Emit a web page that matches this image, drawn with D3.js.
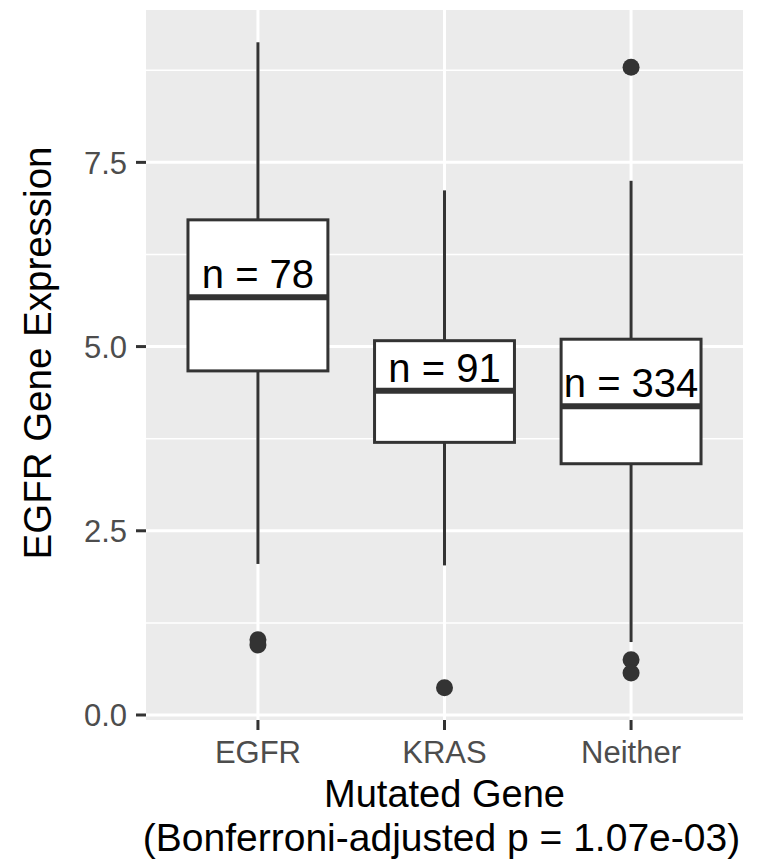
<!DOCTYPE html>
<html>
<head>
<meta charset="utf-8">
<script src="https://cdnjs.cloudflare.com/ajax/libs/d3/7.8.5/d3.min.js"></script>
<style>
  body { margin: 0; background: #fff; }
  text { font-family: "Liberation Sans", Arial, Helvetica, sans-serif; }
</style>
</head>
<body>
<div id="chart"></div>
<script>
// values
var categories = ["EGFR", "KRAS", "Neither"];
var q1 = [4.67, 3.70, 3.41];
var medians = [5.67, 4.40, 4.19];
var q3 = [6.72, 5.08, 5.10];
var whiskerLow = [2.05, 2.03, 0.99];
var whiskerHigh = [9.13, 7.12, 7.25];
var outliers = [[1.02, 0.95], [0.37], [8.79, 0.75, 0.57]];
var counts = [78, 91, 334];
var yTicks = [0, 2.5, 5, 7.5];
var yMinor = [1.25, 3.75, 6.25, 8.75];

var W = 762, H = 866;
var panel = { left: 146, right: 743, top: 10, bottom: 720 };

var svg = d3.select("#chart").append("svg")
    .attr("width", W).attr("height", H);

// ggplot style 5% expansion around the data
var allVals = whiskerLow.concat(whiskerHigh, d3.merge(outliers));
var lo = d3.min(allVals), hi = d3.max(allVals);
var pad = (hi - lo) * 0.05;

var y = d3.scaleLinear().domain([lo - pad, hi + pad]).range([panel.bottom, panel.top]);
var x = d3.scalePoint().domain(categories).range([panel.left, panel.right]).padding(0.6);
var boxW = x.step() * 0.75;

// panel background
svg.append("rect")
    .attr("x", panel.left).attr("y", panel.top)
    .attr("width", panel.right - panel.left).attr("height", panel.bottom - panel.top)
    .attr("fill", "#EBEBEB");

// grid
svg.selectAll(".minor").data(yMinor).enter().append("line")
    .attr("x1", panel.left).attr("x2", panel.right)
    .attr("y1", function (d) { return y(d); }).attr("y2", function (d) { return y(d); })
    .attr("stroke", "#fff").attr("stroke-width", 1.5);
svg.selectAll(".major").data(yTicks).enter().append("line")
    .attr("x1", panel.left).attr("x2", panel.right)
    .attr("y1", function (d) { return y(d); }).attr("y2", function (d) { return y(d); })
    .attr("stroke", "#fff").attr("stroke-width", 3);
svg.selectAll(".vmajor").data(categories).enter().append("line")
    .attr("x1", function (d) { return x(d); }).attr("x2", function (d) { return x(d); })
    .attr("y1", panel.top).attr("y2", panel.bottom)
    .attr("stroke", "#fff").attr("stroke-width", 3);

// boxes
var g = svg.selectAll(".box").data(categories).enter().append("g");

g.append("line")
    .attr("x1", function (d) { return x(d); }).attr("x2", function (d) { return x(d); })
    .attr("y1", function (d, i) { return y(whiskerHigh[i]); })
    .attr("y2", function (d, i) { return y(q3[i]); })
    .attr("stroke", "#333").attr("stroke-width", 3);
g.append("line")
    .attr("x1", function (d) { return x(d); }).attr("x2", function (d) { return x(d); })
    .attr("y1", function (d, i) { return y(q1[i]); })
    .attr("y2", function (d, i) { return y(whiskerLow[i]); })
    .attr("stroke", "#333").attr("stroke-width", 3);
g.append("rect")
    .attr("x", function (d) { return x(d) - boxW / 2; })
    .attr("width", boxW)
    .attr("y", function (d, i) { return y(q3[i]); })
    .attr("height", function (d, i) { return y(q1[i]) - y(q3[i]); })
    .attr("fill", "#fff").attr("stroke", "#333").attr("stroke-width", 3);
g.append("line")
    .attr("x1", function (d) { return x(d) - boxW / 2; })
    .attr("x2", function (d) { return x(d) + boxW / 2; })
    .attr("y1", function (d, i) { return y(medians[i]); })
    .attr("y2", function (d, i) { return y(medians[i]); })
    .attr("stroke", "#333").attr("stroke-width", 6);

// outliers
g.each(function (d, i) {
  d3.select(this).selectAll("circle").data(outliers[i]).enter().append("circle")
      .attr("cx", x(d))
      .attr("cy", function (v) { return y(v); })
      .attr("r", 8.5)
      .attr("fill", "#333");
});

// n labels
g.append("text")
    .attr("x", function (d) { return x(d); })
    .attr("y", function (d, i) { return y(medians[i]) - 9; })
    .attr("text-anchor", "middle")
    .attr("font-size", "40px")
    .attr("fill", "#000")
    .text(function (d, i) { return "n = " + counts[i]; });

// y axis
svg.selectAll(".ytick").data(yTicks).enter().append("line")
    .attr("x1", panel.left - 10).attr("x2", panel.left)
    .attr("y1", function (d) { return y(d); }).attr("y2", function (d) { return y(d); })
    .attr("stroke", "#333").attr("stroke-width", 3);
svg.selectAll(".ylab").data(yTicks).enter().append("text")
    .attr("x", panel.left - 19)
    .attr("y", function (d) { return y(d); })
    .attr("dy", "0.36em")
    .attr("text-anchor", "end")
    .attr("font-size", "31px")
    .attr("fill", "#4D4D4D")
    .text(function (d) { return d3.format(".1f")(d); });

// x axis
svg.selectAll(".xtick").data(categories).enter().append("line")
    .attr("x1", function (d) { return x(d); }).attr("x2", function (d) { return x(d); })
    .attr("y1", panel.bottom).attr("y2", panel.bottom + 10)
    .attr("stroke", "#333").attr("stroke-width", 3);
svg.selectAll(".xlab").data(categories).enter().append("text")
    .attr("x", function (d) { return x(d); })
    .attr("y", 763)
    .attr("text-anchor", "middle")
    .attr("font-size", "31px")
    .attr("fill", "#4D4D4D")
    .text(function (d) { return d; });

// titles
var midX = (panel.left + panel.right) / 2;
svg.append("text")
    .attr("x", midX).attr("y", 807)
    .attr("text-anchor", "middle")
    .attr("font-size", "38px")
    .text("Mutated Gene");
svg.append("text")
    .attr("x", midX - 3).attr("y", 851)
    .attr("text-anchor", "middle")
    .attr("font-size", "39px")
    .text("(Bonferroni-adjusted p = 1.07e-03)");
svg.append("text")
    .attr("transform", "translate(51,353) rotate(-90)")
    .attr("text-anchor", "middle")
    .attr("font-size", "38.5px")
    .text("EGFR Gene Expression");
</script>
</body>
</html>
